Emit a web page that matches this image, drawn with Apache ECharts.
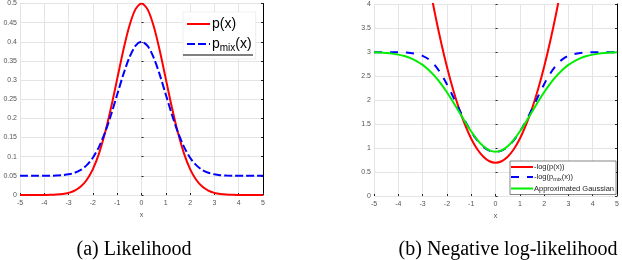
<!DOCTYPE html>
<html>
<head>
<meta charset="utf-8">
<script src="https://cdn.jsdelivr.net/npm/echarts@6/dist/echarts.min.js"></script>
<style>
html,body{margin:0;padding:0;background:#fff;}
#c{width:622px;height:260px;}
</style>
</head>
<body>
<div id="c"></div>
<script>
// x positions (shared by all curves)
var xs = [-5,-4.75,-4.5,-4.25,-4,-3.75,-3.5,-3.25,-3,-2.75,-2.5,-2.25,-2,-1.75,-1.5,-1.25,-1,-0.75,-0.5,-0.25,0,
          0.25,0.5,0.75,1,1.25,1.5,1.75,2,2.25,2.5,2.75,3,3.25,3.5,3.75,4,4.25,4.5,4.75,5];
// (a) Likelihood
var pX = [0,0,0,0.0001,0.0002,0.0004,0.0011,0.0025,0.0056,0.0114,0.0220,0.0398,0.0677,0.1082,0.1623,0.2289,0.3033,0.3774,0.4412,0.4846,0.5,
          0.4846,0.4412,0.3774,0.3033,0.2289,0.1623,0.1082,0.0677,0.0398,0.0220,0.0114,0.0056,0.0025,0.0011,0.0004,0.0002,0.0001,0,0,0];
var pMix = [0.05,0.05,0.05,0.05,0.0501,0.0503,0.0508,0.0518,0.0539,0.0580,0.0654,0.0779,0.0974,0.1257,0.1636,0.2102,0.2623,0.3142,0.3589,0.3892,0.4,
            0.3892,0.3589,0.3142,0.2623,0.2102,0.1636,0.1257,0.0974,0.0779,0.0654,0.0580,0.0539,0.0518,0.0508,0.0503,0.0501,0.05,0.05,0.05,0.05];
// (b) Negative log-likelihood
var nlP = [null,null,null,null,null,null,null,null,5.193,4.474,3.818,3.224,2.693,2.224,1.818,1.474,1.193,0.974,0.818,0.724,0.693,
           0.724,0.818,0.974,1.193,1.474,1.818,2.224,2.693,3.224,3.818,4.474,5.193,null,null,null,null,null,null,null,null];
var nlMix = [2.996,2.996,2.995,2.995,2.994,2.990,2.980,2.960,2.921,2.847,2.727,2.552,2.329,2.074,1.810,1.560,1.338,1.158,1.025,0.944,0.916,
             0.944,1.025,1.158,1.338,1.560,1.810,2.074,2.329,2.552,2.727,2.847,2.921,2.960,2.980,2.990,2.994,2.995,2.995,2.996,2.996];
var approxG = [2.993,2.988,2.979,2.966,2.945,2.915,2.871,2.811,2.731,2.627,2.497,2.342,2.162,1.963,1.753,1.542,1.343,1.170,1.035,0.949,0.92,
               0.949,1.035,1.170,1.343,1.542,1.753,1.963,2.162,2.342,2.497,2.627,2.731,2.811,2.871,2.915,2.945,2.966,2.979,2.988,2.993];
var xTicks = {min:-5, max:5, interval:1};
var yTicksA = {min:0, max:0.5, interval:0.05};
var yTicksB = {min:0, max:4, interval:0.5};
var namesA = ['p(x)','p_mix(x)'];
var namesB = ['-log(p(x))','-log(p_mix(x))','Approximated Gaussian'];
var captions = ['(a) Likelihood','(b) Negative log-likelihood'];

function pairs(y){ var o=[]; for(var i=0;i<xs.length;i++){ o.push([xs[i], y[i]]); } return o; }
function fmtSub(n){ return n.replace('_mix','{s|mix}'); }

var lbl = {fontFamily:'Liberation Sans', fontSize:7, color:'#555'};
var split = {show:true, lineStyle:{color:'#e4e4e4', width:1}};
function xAx(g){
  return {type:'value', gridIndex:g, min:xTicks.min, max:xTicks.max, interval:xTicks.interval,
    axisLine:{show:false}, axisTick:{show:true, inside:true, length:2, lineStyle:{color:'#222'}},
    axisLabel:Object.assign({margin:5}, lbl), splitLine:split,
    name:'x', nameLocation:'middle', nameGap:14, nameTextStyle:lbl};
}
function yAx(g,t){
  return {type:'value', gridIndex:g, min:t.min, max:t.max, interval:t.interval,
    axisLine:{show:false}, axisTick:{show:true, inside:true, length:2, lineStyle:{color:'#222'}},
    axisLabel:Object.assign({margin:3}, lbl), splitLine:split};
}
function rAx(g,t){
  return {type:'value', gridIndex:g, position:'right', min:t.min, max:t.max, interval:t.interval,
    axisLine:{show:true, onZero:false, lineStyle:{color:'#000', width:1}},
    axisTick:{show:true, inside:true, length:2, lineStyle:{color:'#222'}},
    axisLabel:{show:false}, splitLine:{show:false}};
}
function line(name, xi, yi, data, color, type){
  return {name:name, type:'line', xAxisIndex:xi, yAxisIndex:yi, data:pairs(data), smooth:0.3,
    symbol:'none', connectNulls:false, clip:true,
    lineStyle:{color:color, width:2, type:type}, itemStyle:{color:color}};
}

var chart = echarts.init(document.getElementById('c'), null, {renderer:'canvas'});
chart.setOption({
  animation:false,
  backgroundColor:'#fff',
  grid:[{left:20, top:3, width:243, height:192}, {left:374, top:4, width:244, height:192}],
  xAxis:[xAx(0), xAx(1)],
  yAxis:[yAx(0,yTicksA), yAx(1,yTicksB), rAx(0,yTicksA), rAx(1,yTicksB)],
  title:[
    {text:captions[0], left:134, top:240, textAlign:'center', padding:0,
     textStyle:{fontFamily:'Liberation Serif', fontWeight:'normal', fontSize:20, color:'#000'}},
    {text:captions[1], left:508, top:240, textAlign:'center', padding:0,
     textStyle:{fontFamily:'Liberation Serif', fontWeight:'normal', fontSize:20, color:'#000'}}
  ],
  legend:[
    {data:namesA, orient:'vertical', left:183, top:12, itemWidth:23, itemHeight:8, itemGap:6,
     backgroundColor:'#fff', borderColor:'#ddd', borderWidth:0.5, padding:[5,4,6,3],
     itemStyle:{opacity:0},
     formatter:fmtSub,
     textStyle:{fontFamily:'Liberation Sans', fontSize:14, color:'#000', padding:[0,0,0,-3],
       rich:{s:{fontFamily:'Liberation Sans', fontSize:10, color:'#000', padding:[8,0,0,0]}}}},
    {data:namesB, orient:'vertical', left:510, top:161, itemWidth:22, itemHeight:6, itemGap:2,
     backgroundColor:'#fff', borderColor:'#333', borderWidth:0.6, padding:[2,2,2,0],
     itemStyle:{opacity:0},
     formatter:fmtSub,
     textStyle:{fontFamily:'Liberation Sans', fontSize:7.5, color:'#222', padding:[0,0,0,-4],
       rich:{s:{fontFamily:'Liberation Sans', fontSize:5.5, color:'#222', padding:[5,0,0,0]}}}}
  ],
  series:[
    line(namesA[0],0,0,pX,'#ff0000','solid'),
    line(namesA[1],0,0,pMix,'#0000ff',[8,3]),
    line(namesB[0],1,1,nlP,'#ff0000','solid'),
    line(namesB[1],1,1,nlMix,'#0000ff',[8,8]),
    line(namesB[2],1,1,approxG,'#00ee00','solid')
  ],
  graphic:[{type:'line', shape:{x1:183, y1:55, x2:253, y2:55}, style:{stroke:'#000', lineWidth:1}, z:100}]
});
</script>
</body>
</html>
